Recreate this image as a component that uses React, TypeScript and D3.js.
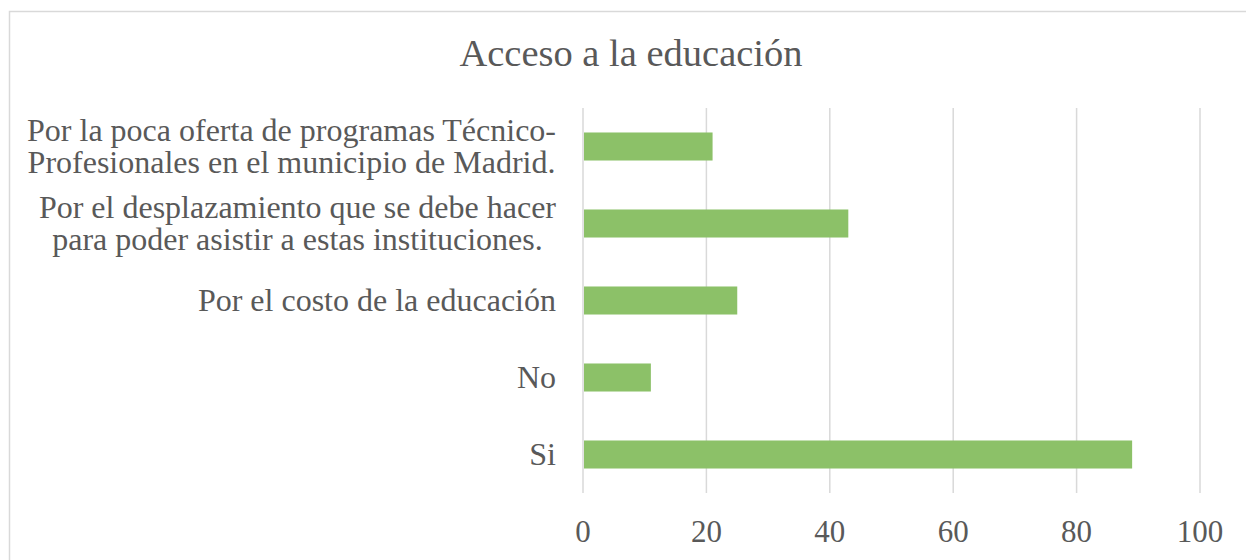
import React, { useEffect, useRef } from 'react';
import * as d3 from 'd3';

const WIDTH = 1246;
const HEIGHT = 560;

// categories top to bottom, each a list of lines
const categories: string[][] = [
  ['Por la poca oferta de programas Técnico-', 'Profesionales en el municipio de Madrid.'],
  ['Por el desplazamiento que se debe hacer', 'para poder asistir a estas instituciones.'],
  ['Por el costo de la educación'],
  ['No'],
  ['Si'],
];
const values = [21, 43, 25, 11, 89];
const xTicks = [0, 20, 40, 60, 80, 100];

const MARGIN = { top: 108, right: 46, bottom: 67, left: 583 };
const FONT = '"Liberation Serif", "Times New Roman", serif';
const TEXT_COLOR = '#595959';

const App: React.FC = () => {
  const svgRef = useRef<SVGSVGElement>(null);

  useEffect(() => {
    const svg = d3.select(svgRef.current);
    svg.selectAll('*').remove();

    const chartWidth = WIDTH - MARGIN.left - MARGIN.right;
    const chartHeight = HEIGHT - MARGIN.top - MARGIN.bottom;

    // chart border
    svg.append('rect')
      .attr('x', 9.5)
      .attr('y', 11.5)
      .attr('width', WIDTH + 20)
      .attr('height', HEIGHT + 20)
      .attr('fill', 'white')
      .attr('stroke', '#d9d9d9')
      .attr('stroke-width', 1.5);

    // title
    svg.append('text')
      .attr('x', 631)
      .attr('y', 66)
      .attr('text-anchor', 'middle')
      .style('font-family', FONT)
      .style('font-size', '38.5px')
      .style('fill', TEXT_COLOR)
      .text('Acceso a la educación');

    const xScale = d3.scaleLinear().domain([0, 100]).range([0, chartWidth]);
    const yScale = d3.scaleBand<number>()
      .domain(d3.range(categories.length))
      .range([0, chartHeight])
      .paddingInner(0.636)
      .paddingOuter(0.318);

    const g = svg.append('g').attr('transform', `translate(${MARGIN.left},${MARGIN.top})`);

    // gridlines
    g.selectAll('.grid')
      .data(xTicks)
      .enter().append('line')
      .attr('class', 'grid')
      .attr('x1', d => xScale(d))
      .attr('x2', d => xScale(d))
      .attr('y1', 0)
      .attr('y2', chartHeight)
      .attr('stroke', '#d9d9d9')
      .attr('stroke-width', 1.5);

    // bars
    g.selectAll('.bar')
      .data(values)
      .enter().append('rect')
      .attr('class', 'bar')
      .attr('x', xScale(0) + 1)
      .attr('y', (d, i) => yScale(i)!)
      .attr('width', d => xScale(d) - xScale(0) - 1)
      .attr('height', yScale.bandwidth())
      .attr('fill', '#8cc168');

    // x tick labels
    g.selectAll('.xtick')
      .data(xTicks)
      .enter().append('text')
      .attr('class', 'xtick')
      .attr('x', d => xScale(d))
      .attr('y', chartHeight + 49)
      .attr('text-anchor', 'middle')
      .style('font-family', FONT)
      .style('font-size', '31px')
      .style('fill', TEXT_COLOR)
      .text(d => d);

    // category labels: lines centred on each other, block right-aligned
    const lineHeight = 32;
    const labelRight = -27;
    categories.forEach((lines, i) => {
      const cy = yScale(i)! + yScale.bandwidth() / 2;
      const label = g.append('text')
        .attr('text-anchor', 'middle')
        .style('font-family', FONT)
        .style('font-size', '32px')
        .style('fill', TEXT_COLOR);
      const tspans = lines.map((line, j) =>
        label.append('tspan')
          .attr('y', cy + (j - (lines.length - 1) / 2) * lineHeight + 10)
          .text(line)
      );
      const maxW = d3.max(tspans, t => (t.node() as SVGTSpanElement).getComputedTextLength()) || 0;
      tspans.forEach(t => t.attr('x', labelRight - maxW / 2));
    });
  }, []);

  return (
    <svg
      ref={svgRef}
      width={WIDTH}
      height={HEIGHT}
      style={{ position: 'absolute', left: 0, top: 0, display: 'block', background: 'white' }}
    />
  );
};

export default App;
